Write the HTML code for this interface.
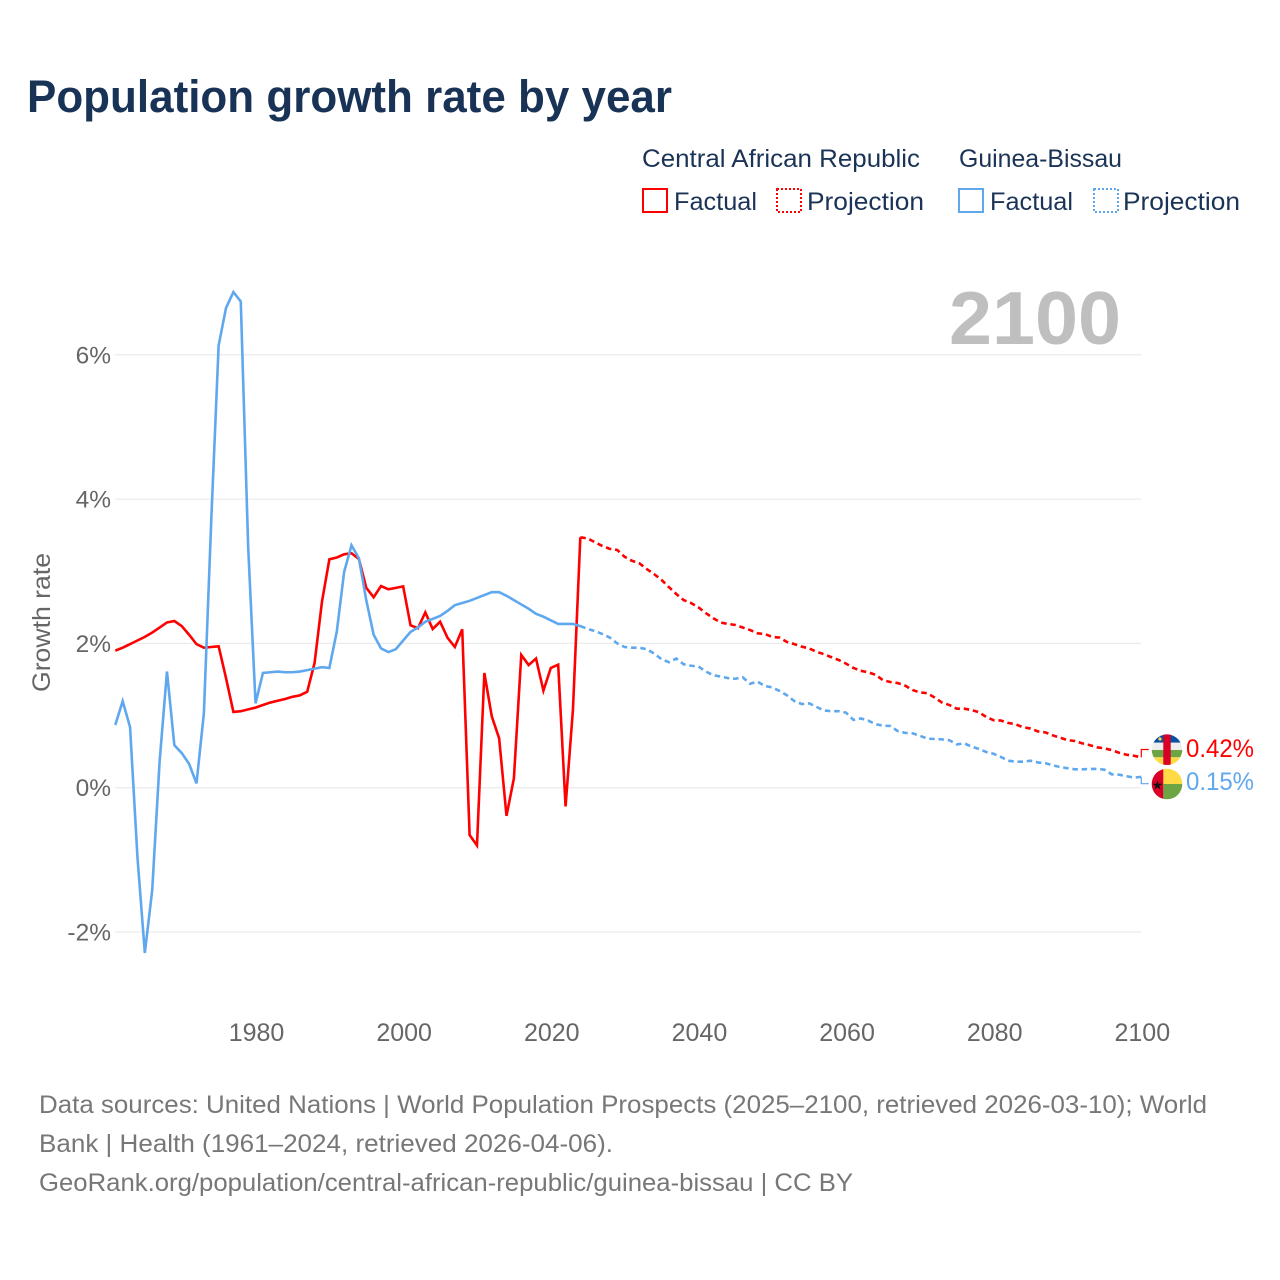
<!DOCTYPE html>
<html lang="en">
<head>
<meta charset="utf-8">
<title>Population growth rate by year</title>
<style>
html,body{margin:0;padding:0;background:#fff;}
svg{display:block;font-family:"Liberation Sans",sans-serif;}
</style>
</head>
<body>
<svg id="chart" width="1280" height="1280" viewBox="0 0 1280 1280" xmlns="http://www.w3.org/2000/svg">
  <rect x="0" y="0" width="1280" height="1280" fill="#ffffff"/>
  <text x="27" y="112" font-size="45" font-weight="700" fill="#193356" textLength="645" lengthAdjust="spacingAndGlyphs">Population growth rate by year</text>

  <g font-size="25" fill="#1a3356">
    <text x="642" y="167" textLength="278" lengthAdjust="spacingAndGlyphs">Central African Republic</text>
    <text x="959" y="167" textLength="163" lengthAdjust="spacingAndGlyphs">Guinea-Bissau</text>
    <rect x="643" y="189" width="24" height="23" fill="none" stroke="#ff0000" stroke-width="2"/>
    <text x="674" y="210" textLength="83" lengthAdjust="spacingAndGlyphs">Factual</text>
    <rect x="777" y="189" width="24" height="23" fill="none" stroke="#ff0000" stroke-width="2" stroke-dasharray="2 2"/>
    <text x="807" y="210" textLength="117" lengthAdjust="spacingAndGlyphs">Projection</text>
    <rect x="959" y="189" width="24" height="23" fill="none" stroke="#5fa8ee" stroke-width="2"/>
    <text x="990" y="210" textLength="83" lengthAdjust="spacingAndGlyphs">Factual</text>
    <rect x="1094" y="189" width="24" height="23" fill="none" stroke="#5fa8ee" stroke-width="2" stroke-dasharray="2 2"/>
    <text x="1123" y="210" textLength="117" lengthAdjust="spacingAndGlyphs">Projection</text>
  </g>

  <g id="grid"></g>
  <g id="ytick-labels"></g>
  <g id="xtick-labels"></g>

  <text x="949" y="344" font-size="75" font-weight="700" fill="#bfbfbf" textLength="172" lengthAdjust="spacingAndGlyphs">2100</text>
  <text transform="translate(50,622.5) rotate(-90)" text-anchor="middle" font-size="25" fill="#666666" textLength="139" lengthAdjust="spacingAndGlyphs">Growth rate</text>

  <g id="series"></g>

  <defs>
    <clipPath id="clip-car"><circle cx="1167" cy="749.7" r="15.3"/></clipPath>
    <clipPath id="clip-gb"><circle cx="1167" cy="784" r="15.3"/></clipPath>
  </defs>
  <g clip-path="url(#clip-car)">
    <rect x="1151" y="734" width="32" height="8.7" fill="#0a4fa3"/>
    <rect x="1151" y="742.7" width="32" height="7.3" fill="#eeeeee"/>
    <rect x="1151" y="750" width="32" height="7.3" fill="#6da544"/>
    <rect x="1151" y="757.3" width="32" height="8.7" fill="#ffda44"/>
    <rect x="1163.3" y="734" width="7.4" height="32" fill="#d80027"/>
    <circle cx="1160" cy="739" r="1.6" fill="#ffda44"/>
  </g>
  <g clip-path="url(#clip-gb)">
    <rect x="1163.3" y="768" width="20" height="16" fill="#ffda44"/>
    <rect x="1163.3" y="784" width="20" height="16" fill="#6da544"/>
    <rect x="1151" y="768" width="12.3" height="32" fill="#d80027"/>
    <text x="1157.5" y="789.5" font-size="13" text-anchor="middle" fill="#111111" font-family="'DejaVu Sans',sans-serif">★</text>
  </g>
  <text id="end-label-car" x="1186" y="757" font-size="25" fill="#ff0000" textLength="68" lengthAdjust="spacingAndGlyphs">0.42%</text>
  <text id="end-label-gb" x="1186" y="790" font-size="25" fill="#5fa8ee" textLength="68" lengthAdjust="spacingAndGlyphs">0.15%</text>

  <g font-size="25" fill="#777777">
    <text x="39" y="1113" textLength="1168" lengthAdjust="spacingAndGlyphs">Data sources: United Nations | World Population Prospects (2025–2100, retrieved 2026-03-10); World</text>
    <text x="39" y="1152" textLength="574" lengthAdjust="spacingAndGlyphs">Bank | Health (1961–2024, retrieved 2026-04-06).</text>
    <text x="39" y="1191" textLength="814" lengthAdjust="spacingAndGlyphs">GeoRank.org/population/central-african-republic/guinea-bissau | CC BY</text>
  </g>
</svg>
<script>
var yTickValues = [-2, 0, 2, 4, 6];
var xTickYears = [1980, 2000, 2020, 2040, 2060, 2080, 2100];
var factualStartYear = 1961;
var projectionStartYear = 2024;

var carFactual = [1.90,1.94,1.99,2.04,2.09,2.15,2.22,2.29,2.31,2.24,2.12,1.99,1.94,1.95,1.96,1.52,1.05,1.06,1.085,1.11,1.146,1.18,1.205,1.23,1.26,1.28,1.33,1.73,2.58,3.165,3.19,3.235,3.25,3.17,2.77,2.64,2.795,2.75,2.77,2.79,2.25,2.21,2.43,2.20,2.30,2.08,1.95,2.195,-0.656,-0.80,1.59,0.99,0.685,-0.39,0.13,1.84,1.70,1.79,1.345,1.66,1.705,-0.26,1.08,3.47];

var gbFactual = [0.87,1.20,0.84,-0.96,-2.29,-1.42,0.36,1.61,0.59,0.48,0.33,0.06,1.03,3.71,6.13,6.65,6.87,6.74,3.34,1.17,1.59,1.60,1.61,1.60,1.60,1.61,1.63,1.65,1.67,1.66,2.16,2.99,3.36,3.18,2.60,2.12,1.93,1.88,1.92,2.04,2.16,2.22,2.30,2.34,2.38,2.45,2.53,2.56,2.59,2.63,2.67,2.71,2.71,2.66,2.60,2.54,2.48,2.41,2.37,2.32,2.27,2.27,2.27,2.24];

var carProjection = [3.47,3.455,3.40,3.35,3.31,3.295,3.20,3.145,3.11,3.03,2.96,2.88,2.78,2.685,2.60,2.56,2.50,2.42,2.35,2.29,2.27,2.255,2.22,2.185,2.14,2.13,2.09,2.08,2.02,1.99,1.955,1.93,1.885,1.85,1.81,1.77,1.72,1.66,1.62,1.60,1.565,1.49,1.465,1.45,1.415,1.355,1.32,1.31,1.25,1.18,1.146,1.095,1.095,1.077,1.045,0.98,0.935,0.93,0.897,0.878,0.837,0.82,0.78,0.767,0.726,0.693,0.66,0.647,0.615,0.59,0.56,0.546,0.52,0.485,0.457,0.443,0.42];

var gbProjection = [2.24,2.20,2.17,2.13,2.08,2.00,1.95,1.94,1.94,1.92,1.86,1.78,1.74,1.79,1.71,1.69,1.68,1.61,1.56,1.54,1.52,1.51,1.53,1.44,1.47,1.41,1.39,1.34,1.28,1.20,1.16,1.17,1.12,1.07,1.06,1.06,1.04,0.94,0.96,0.93,0.88,0.86,0.855,0.785,0.76,0.754,0.72,0.68,0.675,0.67,0.657,0.60,0.615,0.57,0.536,0.495,0.47,0.425,0.374,0.36,0.36,0.374,0.35,0.34,0.31,0.287,0.27,0.255,0.255,0.26,0.26,0.25,0.185,0.18,0.16,0.14,0.15];

var SVGNS = 'http://www.w3.org/2000/svg';
var COLOR_CAR = '#ff0000';
var COLOR_GB = '#5fa8ee';

function xScale(year) {
  return 115.3 + (year - 1961) * (1141.3 - 115.3) / (2100 - 1961);
}
function yScale(value) {
  return 787.7 - value * 72.15;
}
function make(tag, attrs, parent) {
  var el = document.createElementNS(SVGNS, tag);
  for (var k in attrs) { el.setAttribute(k, attrs[k]); }
  parent.appendChild(el);
  return el;
}
function pointsFor(values, startYear) {
  var pts = [];
  for (var i = 0; i < values.length; i++) {
    pts.push(xScale(startYear + i).toFixed(2) + ',' + yScale(values[i]).toFixed(2));
  }
  return pts.join(' ');
}

var gridGroup = document.getElementById('grid');
var yLabelGroup = document.getElementById('ytick-labels');
var xLabelGroup = document.getElementById('xtick-labels');
var seriesGroup = document.getElementById('series');

yTickValues.forEach(function (v) {
  var line = make('line', {x1: xScale(1961), x2: xScale(2100), y1: yScale(v), y2: yScale(v), stroke: '#ececec', 'stroke-width': 1.3}, gridGroup);
  
  
  var label = make('text', {x: 111, y: yScale(v) + 8.5, 'text-anchor': 'end', 'font-size': 24.5, fill: '#666666'}, yLabelGroup);
  
  
  label.textContent = v + '%';
});

xTickYears.forEach(function (yr) {
  var label = make('text', {x: xScale(yr) + 1, y: 1041, 'text-anchor': 'middle', 'font-size': 25, fill: '#666666'}, xLabelGroup);
  
  
  label.textContent = yr;
});

function drawSeries(values, startYear, color, dashed, name) {
  var attrs = {points: pointsFor(values, startYear), fill: 'none', stroke: color, 'stroke-width': 2.6, 'stroke-linejoin': 'miter'};
  if (dashed) { attrs['stroke-dasharray'] = '5.5 3.8'; }
  var line = make('polyline', attrs, seriesGroup);
  
  
}
drawSeries(gbProjection, projectionStartYear, COLOR_GB, true, 'line-guinea-bissau-projection');
drawSeries(carProjection, projectionStartYear, COLOR_CAR, true, 'line-car-projection');
drawSeries(carFactual, factualStartYear, COLOR_CAR, false, 'line-car-factual');
drawSeries(gbFactual, factualStartYear, COLOR_GB, false, 'line-guinea-bissau-factual');

function drawConnector(values, labelY, color, name) {
  var endX = xScale(2100);
  var endY = yScale(values[values.length - 1]);
  var path = make('polyline', {points: endX + ',' + endY + ' ' + endX + ',' + labelY + ' ' + (endX + 7.5) + ',' + labelY, fill: 'none', stroke: color, 'stroke-width': 1.2}, seriesGroup);
  
  
}
drawConnector(carProjection, 749.5, COLOR_CAR, 'end-connector-car');
drawConnector(gbProjection, 783.7, COLOR_GB, 'end-connector-guinea-bissau');
</script>
</body>
</html>
